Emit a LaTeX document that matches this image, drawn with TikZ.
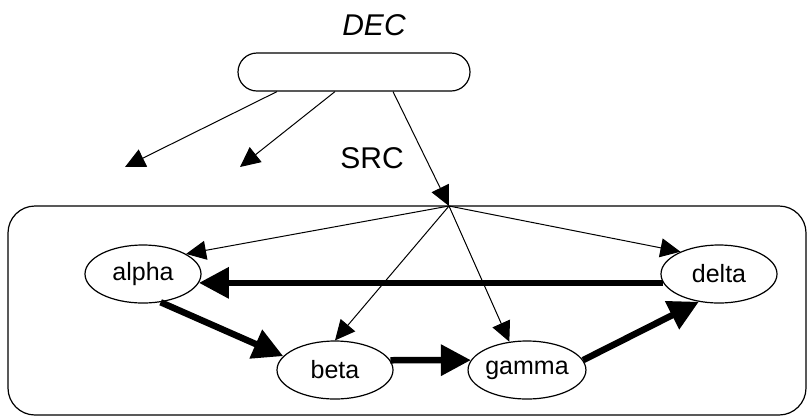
\documentclass[tikz,border=0pt]{standalone}
\usepackage{fontspec}
\setmainfont{Liberation Sans}
\usetikzlibrary{arrows.meta,positioning,shapes.geometric}
\tikzset{
>={Triangle[length=20pt,width=19pt]},
  state/.style={
    ellipse,
    draw, line width=1.2pt,
    minimum width=116pt,
    minimum height=58pt,
    inner sep=0pt,
    font=\fontsize{25}{28}\selectfont},
  decbox/.style={
    rectangle,
    rounded corners=19pt,
    draw, line width=1.2pt,
    minimum width=232pt,
    minimum height=38pt},
  caption/.style={font=\fontsize{30}{34}\selectfont},
  signal/.style={draw, line width=1pt, ->},
  flow/.style={draw, line width=6.5pt, -{Triangle[length=30pt,width=30pt]}},
  frame/.style={draw, line width=1.2pt, rounded corners=27pt},
}

\begin{document}
\begin{tikzpicture}
  [x=1pt, y=-1pt]
  \useasboundingbox (0,0) rectangle (808,416);
     \node[caption, font=\fontsize{30}{34}\selectfont\itshape] (DecLabel) at (374,25) {DEC};
     \node[decbox] (Dec) at (354,72) {};
     \node[caption] (SrcLabel) at (372,158) {SRC};
  % the big frame and its entry point
     \draw[frame] (8,206) rectangle (806,415);
     \coordinate (Hub) at (449,206);
     \coordinate (LeftEnd) at (125,167);
     \coordinate (MidEnd) at (240,167);
  % states
     \node[state] (Alpha) at (143,274) {alpha};
     \node[state] (Delta) at (719,274) {delta};
     \node[state] (Beta) at (335,370) {beta};
     \node[state] (Gamma) at (527,370) {gamma};
  %% thin arrows from DEC and from the hub
     \draw[signal] ([xshift=-77pt]Dec.south) -- (LeftEnd);
     \draw[signal] ([xshift=-19pt]Dec.south) -- (MidEnd);
     \draw[signal] ([xshift=39pt]Dec.south) -- (Hub);
     \draw[signal] (Hub) -- (Alpha.25);
     \draw[signal] (Hub) -- (Beta.north);
     \draw[signal] (Hub) -- (Gamma.122);
     \draw[signal] (Hub) -- (Delta.150);
  %% thick cycle
     \draw[flow] (Delta.189) -- (Alpha.351);
     \draw[flow] (Alpha.302) -- (Beta.165);
     \draw[flow] (Beta.10) -- (Gamma.170);
     \draw[flow] (Gamma.10) -- (Delta.234);
\end{tikzpicture}
\end{document}
